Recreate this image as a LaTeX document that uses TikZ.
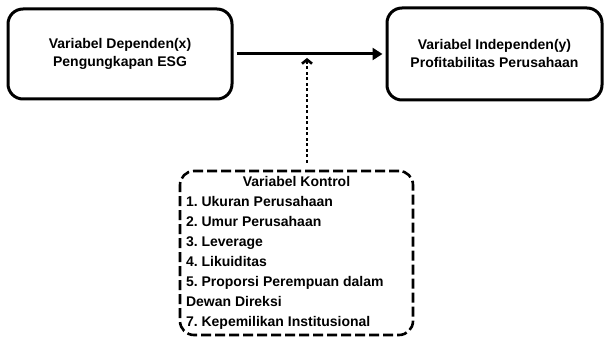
\documentclass[tikz,border=0pt]{standalone}
\usepackage{fontspec}
\setmainfont{Liberation Sans}
\usepackage{tikz}
\usetikzlibrary{arrows.meta, positioning, calc}
\frenchspacing

\begin{document}
\begin{tikzpicture}[
    varbox/.style={draw, line width=3pt, rounded corners=15pt, align=center,
                   font=\fontsize{14}{18}\selectfont\bfseries},
    ctrlbox/.style={draw, line width=2.6pt, rounded corners=14pt, dash pattern=on 10pt off 4pt,
                    inner sep=0pt, minimum width=233pt, minimum height=164pt,
                    font=\fontsize{14}{20}\selectfont\bfseries}
]
    \useasboundingbox (0,0) rectangle (605pt,337pt);

    \node[varbox, minimum width=224pt, minimum height=90pt] (dep) at (120pt,283pt)
        {Variabel Dependen(x)\\Pengungkapan ESG};
    \node[varbox, minimum width=215pt, minimum height=92pt] (indep) at (494.5pt,283pt)
        {Variabel Independen(y)\\Profitabilitas Perusahaan};
    \node[ctrlbox] (kontrol) at (296.5pt,84pt) {%
        \begin{tabular}{@{}p{221pt}@{}}
            \multicolumn{1}{@{}c@{}}{Variabel Kontrol}\\
            1. Ukuran Perusahaan\\
            2. Umur Perusahaan\\
            3. Leverage\\
            4. Likuiditas\\
            5. Proporsi Perempuan dalam\\
            Dewan Direksi\\
            7. Kepemilikan Institusional
        \end{tabular}};

    \coordinate (ctrl) at ([xshift=10.5pt]kontrol.north);

    \draw[-{Triangle[length=10pt,width=12pt]}, line width=3pt, shorten <=3pt, shorten >=3pt]
        (dep.east) -- (indep.west);
    \draw[-{Straight Barb[length=4pt,width=10pt]}, line width=2.6pt, dash pattern=on 3pt off 2.5pt,
          shorten <=7pt, shorten >=4pt] (ctrl) -- (ctrl |- dep.east);
\end{tikzpicture}
\end{document}
